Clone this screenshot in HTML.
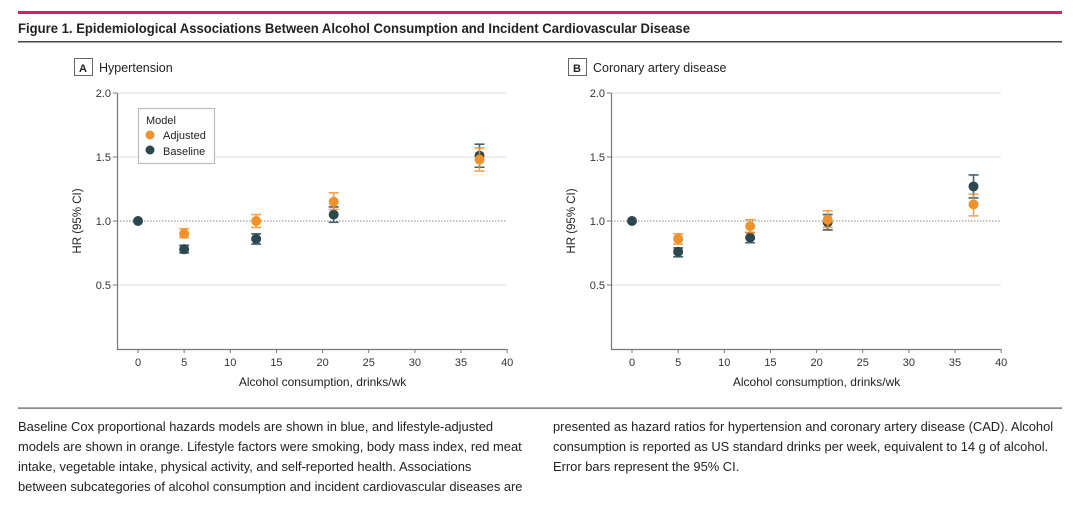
<!DOCTYPE html>
<html><head><meta charset="utf-8"><style>
body{margin:0;width:1080px;height:505px;background:#fff;overflow:hidden;font-family:"Liberation Sans",sans-serif;}
svg{position:absolute;left:0;top:0}
.cap{position:absolute;top:417px;font-size:12.9px;line-height:20px;color:#222;letter-spacing:0px;white-space:nowrap}
</style></head><body>
<svg id="s" width="1080" height="505" xmlns="http://www.w3.org/2000/svg" font-family="Liberation Sans, sans-serif">
<rect x="18" y="11" width="1044" height="3" fill="#d81f5c"/>
<text x="18" y="33" font-size="14" font-weight="bold" fill="#222" textLength="672" lengthAdjust="spacingAndGlyphs">Figure 1. Epidemiological Associations Between Alcohol Consumption and Incident Cardiovascular Disease</text>
<rect x="18" y="41" width="1044" height="1.5" fill="#444"/>
<rect x="18" y="407.5" width="1044" height="1.2" fill="#555"/>
</svg>
<div class="cap" style="left:18px;width:530px">Baseline Cox proportional hazards models are shown in blue, and lifestyle-adjusted<br>models are shown in orange. Lifestyle factors were smoking, body mass index, red meat<br>intake, vegetable intake, physical activity, and self-reported health. Associations<br>between subcategories of alcohol consumption and incident cardiovascular diseases are</div>
<div class="cap" style="left:553px;width:520px">presented as hazard ratios for hypertension and coronary artery disease (CAD). Alcohol<br>consumption is reported as US standard drinks per week, equivalent to 14 g of alcohol.<br>Error bars represent the 95% CI.</div>
<script>
const s=document.getElementById('s');let h='';
const OR='#f0922b',BL='#2b474f';
function panel(dx,label,title,adj,base,legend){
 const X=v=>138+dx+v*9.23, Y=v=>349-v*128, L=117+dx, R=507+dx;
 h+=`<rect x="${74+dx}.5" y="58.5" width="18" height="17" fill="#fff" stroke="#666"/>`;
 h+=`<text x="${83+dx}" y="72" font-size="11" font-weight="bold" text-anchor="middle" fill="#222">${label}</text>`;
 h+=`<text x="${99+dx}" y="72" font-size="12.5" fill="#222">${title}</text>`;
 [2,1.5,0.5].forEach(v=>h+=`<line x1="${L}" x2="${R}" y1="${Y(v)}" y2="${Y(v)}" stroke="#ddd"/>`);
 h+=`<line x1="${L}" x2="${R}" y1="${Y(1)}" y2="${Y(1)}" stroke="#888" stroke-dasharray="1.5,1.5"/>`;
 h+=`<path d="M${L}.5 ${Y(2)}V349.5H${R}" fill="none" stroke="#777" stroke-width="1.2"/>`;
 [2,1.5,1,0.5].forEach(v=>{h+=`<line x1="${L-4}" x2="${L}" y1="${Y(v)}" y2="${Y(v)}" stroke="#777"/><text x="${L-6}" y="${Y(v)+4}" font-size="11" text-anchor="end" fill="#333">${v.toFixed(1)}</text>`});
 for(let t=0;t<=40;t+=5){h+=`<line x1="${X(t)}" x2="${X(t)}" y1="349" y2="353" stroke="#777"/><text x="${X(t)}" y="366" font-size="11" text-anchor="middle" fill="#333">${t}</text>`}
 h+=`<text x="${X(20)}" y="386" font-size="12" text-anchor="middle" fill="#222">Alcohol consumption, drinks/wk</text>`;
 h+=`<text transform="translate(${L-36},${Y(1)}) rotate(-90)" font-size="11.5" text-anchor="middle" fill="#222">HR (95% CI)</text>`;
 const pts=(d,c)=>d.forEach(p=>{const x=X(p[0]);if(p[2]!=null){h+=`<path d="M${x-5} ${Y(p[2])}h10M${x-5} ${Y(p[3])}h10M${x} ${Y(p[2])}V${Y(p[3])}" stroke="${c}" stroke-width="1.6" opacity="0.85"/>`}
  h+=`<circle cx="${x}" cy="${Y(p[1])}" r="5" fill="${c}"/>`});
 pts(base,BL);pts(adj,OR);
 if(legend){h+=`<rect x="138.5" y="108.5" width="76" height="55" fill="#fff" stroke="#bbb" stroke-width="1.2"/><text x="146" y="124" font-size="11" fill="#222">Model</text><circle cx="150" cy="135" r="4.5" fill="${OR}"/><text x="163" y="139" font-size="11" fill="#222">Adjusted</text><circle cx="150" cy="150" r="4.5" fill="${BL}"/><text x="163" y="155" font-size="11" fill="#222">Baseline</text>`}
}
panel(0,'A','Hypertension',
 [[5,0.9,0.87,0.94],[12.8,1.0,0.95,1.05],[21.2,1.15,1.09,1.22],[37,1.48,1.39,1.57]],
 [[0,1],[5,0.78,0.75,0.81],[12.8,0.86,0.82,0.9],[21.2,1.05,0.99,1.11],[37,1.51,1.42,1.6]],true);
panel(494,'B','Coronary artery disease',
 [[5,0.86,0.82,0.9],[12.8,0.96,0.91,1.01],[21.2,1.01,0.95,1.08],[37,1.13,1.04,1.21]],
 [[0,1],[5,0.76,0.72,0.79],[12.8,0.87,0.83,0.91],[21.2,0.99,0.93,1.05],[37,1.27,1.18,1.36]],false);
s.insertAdjacentHTML('beforeend',h);
</script>
</body></html>
